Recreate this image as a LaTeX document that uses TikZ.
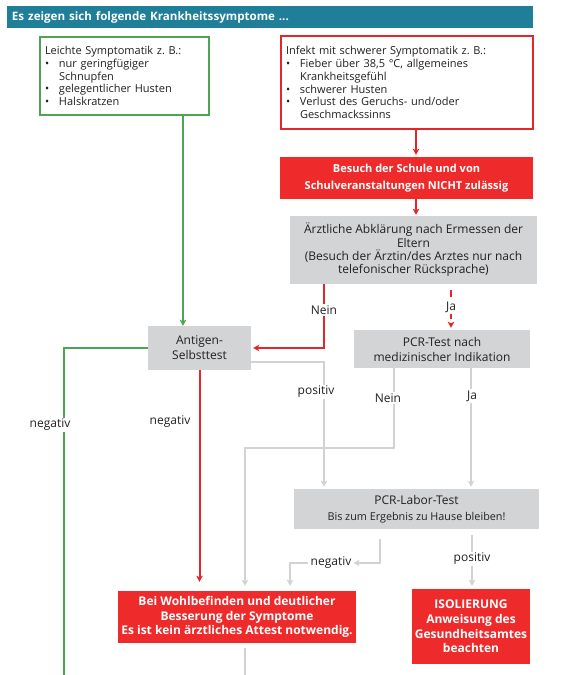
\documentclass[tikz,border=0pt]{standalone}
\usepackage{fontspec}
\setmainfont{Open Sans}
\usetikzlibrary{arrows.meta, positioning}
\frenchspacing

\definecolor{headteal}{HTML}{1F7F98}
\definecolor{symgreen}{HTML}{4DA356}
\definecolor{symred}{HTML}{E4262B}
\definecolor{boxred}{HTML}{EE2A2B}
\definecolor{boxgray}{HTML}{D3D4D6}
\definecolor{linegray}{HTML}{D2D2D2}
\definecolor{ink}{HTML}{231F20}

\newcommand{\bul}{\makebox[14pt][l]{\textbullet}}
\newcommand{\ind}{\hspace*{14pt}}

\begin{document}
\begin{tikzpicture}[x=1pt,y=-1pt,
  every node/.style={font=\fontsize{12}{13.3}\selectfont, text=ink},
  symbox/.style={draw, line width=1.8pt, fill=white, inner xsep=5pt, inner ysep=0pt, align=left,
    font=\fontsize{11}{12.8}\selectfont},
  redbox/.style={fill=boxred, inner sep=0pt, align=center, text=white, font=\bfseries\fontsize{12}{14.7}\selectfont},
  graybox/.style={fill=boxgray, inner sep=0pt, align=center},
  lbl/.style={fill=white, inner sep=1.5pt},
  tip/.style={-{Stealth[length=6pt,width=6.5pt,inset=1.5pt]}},
  greenline/.style={draw=symgreen, line width=1.8pt},
  redline/.style={draw=symred, line width=2pt},
  grayline/.style={draw=linegray, line width=2pt}]
\useasboundingbox (0,0) rectangle (578,675);

% Header
\node[fill=headteal, inner xsep=5pt, text width=516pt, minimum height=22pt, align=left,
  text=white, font=\bfseries\fontsize{11.6}{13}\selectfont] (head) at (270,17)
  {Es zeigen sich folgende Krankheitssymptome ...};

% Symptoms
\node[symbox, draw=symgreen, text width=159pt, minimum height=78pt] (mild) at (124.5,76)
  {Leichte Symptomatik z. B.:\\ \bul nur geringfügiger\\ \ind Schnupfen\\
   \bul gelegentlicher Husten\\ \bul Halskratzen};
\node[symbox, draw=symred, text width=242pt, minimum height=93pt] (severe) at (407,82.5)
  {Infekt mit schwerer Symptomatik z. B.:\\ \bul Fieber über 38,5 °C, allgemeines\\
   \ind Krankheitsgefühl\\ \bul schwerer Husten\\ \bul Verlust des Geruchs- und/oder\\
   \ind Geschmackssinns};

% Boxes
\node[redbox, minimum width=253pt, minimum height=42pt, font=\bfseries\fontsize{11}{17}\selectfont] (noschool) at (406.5,178)
  {Besuch der Schule und von\\ Schulveranstaltungen NICHT zulässig};
\node[graybox, minimum width=247pt, minimum height=68pt] (doctor) at (413.5,250)
  {Ärztliche Abklärung nach Ermessen der\\ Eltern\\ (Besuch der Ärztin/des Arztes nur nach\\ telefonischer Rücksprache)};
\node[graybox, minimum width=103pt, minimum height=44pt, font=\fontsize{12}{15}\selectfont] (antigen) at (199.5,348)
  {Antigen-\\ Selbsttest};
\node[graybox, minimum width=176pt, minimum height=38pt, font=\fontsize{12}{15}\selectfont] (pcr) at (442,349)
  {PCR-Test nach\\ medizinischer Indikation};
\node[graybox, minimum width=245pt, minimum height=40pt] (lab) at (416.5,509)
  {PCR-Labor-Test\\[3pt] {\fontsize{10.8}{12}\selectfont Bis zum Ergebnis zu Hause bleiben!}};
\node[redbox, minimum width=238pt, minimum height=52pt] (wellbeing) at (237,617)
  {Bei Wohlbefinden und deutlicher\\ Besserung der Symptome\\ Es ist kein ärztliches Attest notwendig.};
\node[redbox, minimum width=118pt, minimum height=75pt] (isolation) at (471,626.5)
  {ISOLIERUNG\\ Anweisung des\\ Gesundheitsamtes\\ beachten};

% Free ends
\coordinate (gbottom) at (64,675);
\coordinate (wbottom) at (245,675);
\coordinate (gtop) at ([xshift=-16.5pt]antigen.north);

% Connectors
\draw[greenline, tip] (mild.south -| gtop) -- (gtop);
\draw[redline, tip, shorten >=2pt] ([xshift=9pt]severe.south) -- ([xshift=9pt]severe.south |- noschool.north);
\draw[redline, tip, shorten >=1pt] ([xshift=9.5pt]noschool.south) -- ([xshift=9.5pt]noschool.south |- doctor.north);
\draw[redline, tip, shorten >=2pt] ([xshift=-89.5pt]doctor.south) |- node[lbl, pos=0.2] {Nein} (antigen.east);
\draw[redline, tip, dash pattern=on 7pt off 4pt, shorten <=6pt, shorten >=2pt] ([xshift=37.5pt]doctor.south)
  -- node[lbl] {Ja} ([xshift=37.5pt]doctor.south |- pcr.north);

\draw[greenline] (antigen.west) -| (gbottom);
\draw[redline, tip, shorten >=9pt] (antigen.south) -- (antigen.south |- wellbeing.north);
\draw[grayline, tip, shorten >=2pt] ([yshift=-14pt]antigen.east) -| ([xshift=-92.5pt]lab.north);

\draw[grayline, tip, shorten >=5pt] ([xshift=-48pt]pcr.south) -- ++(0,80) -| ([xshift=8pt]wellbeing.north);
\draw[grayline, tip, shorten >=2pt] ([xshift=29pt]pcr.south) -- ([xshift=29pt]pcr.south |- lab.north);

\node[inner sep=2pt] (lneg) at (331,563) {negativ};
\draw[grayline, tip, shorten <=10pt] ([xshift=-36.5pt]lab.south) |- (lneg.east);
\draw[grayline, tip, shorten >=5pt] (lneg.west) -| ([xshift=53pt]wellbeing.north);
\draw[grayline, tip, shorten <=6pt, shorten >=3pt] ([xshift=55.5pt]lab.south)
  -- node[lbl] {positiv} ([xshift=55.5pt]lab.south |- isolation.north);
\draw[grayline, shorten <=5pt] ([xshift=8pt]wellbeing.south) -- (wbottom);

% Labels
\node[lbl] (gneg) at (50,425) {negativ};
\node (rneg) at (170,422) {negativ};
\node[lbl] (apos) at (316,392) {positiv};
\node[lbl] (pnein) at (388,398) {Nein};
\node[lbl] (pja) at (472,396) {Ja};
\end{tikzpicture}
\end{document}
